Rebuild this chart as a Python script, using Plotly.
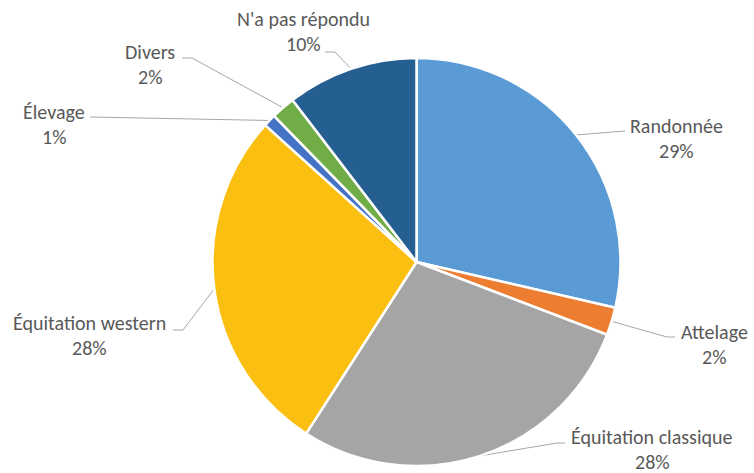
import math
import plotly.graph_objects as go

# slice data (clockwise from 12 o'clock)
labels = ["Randonnée", "Attelage", "Équitation classique", "Équitation western",
          "Élevage", "Divers", "N'a pas répondu"]
values = [28.6, 2.2, 28.3, 27.6, 1.0, 1.9, 10.4]
colors = ["#5B9BD5", "#ED7D31", "#A5A5A5", "#FBBF12", "#4472C4", "#70AD47", "#255E91"]

# label placement (pixels): block centre x, first line y, elbow point, line end
label_pos = [
    dict(cx=676, y=126, elbow=(625, 131), end=(625, 131)),
    dict(cx=714, y=332, elbow=(667, 337), end=(675, 337)),
    dict(cx=652, y=437, elbow=(557, 443), end=(565, 443)),
    dict(cx=89, y=323, elbow=(183, 330), end=(173, 330)),
    dict(cx=54, y=112, elbow=(90, 117), end=(90, 117)),
    dict(cx=150, y=52, elbow=(192, 58), end=(182, 58)),
    dict(cx=303, y=19, elbow=(335, 52), end=(325, 52)),
]

W, H = 754, 473
CX, CY, R = 416.5, 262, 204
TEXT = "#595959"
FONT = "Calibri, Carlito, 'Noto Sans', sans-serif"

fig = go.Figure()

fig.add_trace(go.Pie(
    labels=labels, values=values, sort=False, direction="clockwise", rotation=0,
    marker=dict(colors=colors, line=dict(color="white", width=2.5)),
    textinfo="none", hoverinfo="label+percent", showlegend=False,
    domain=dict(x=[(CX - R) / W, (CX + R) / W], y=[1 - (CY + R) / H, 1 - (CY - R) / H]),
))

total = sum(values)
cum = 0
annotations = []
for lab, v, pos in zip(labels, values, label_pos):
    mid = (cum + v / 2) / total * 2 * math.pi
    cum += v
    x0 = CX + R * math.sin(mid)
    y0 = CY - R * math.cos(mid)
    fig.add_trace(go.Scatter(
        x=[x0, pos["elbow"][0], pos["end"][0]],
        y=[y0, pos["elbow"][1], pos["end"][1]],
        mode="lines", line=dict(color="#A6A6A6", width=1),
        hoverinfo="skip", showlegend=False, xaxis="x", yaxis="y",
    ))
    pct = f"{round(v / total * 100)}%"
    for i, txt in enumerate([lab, pct]):
        annotations.append(dict(
            x=pos["cx"], y=pos["y"] + i * 25, xref="x", yref="y",
            text=txt, showarrow=False, xanchor="center", yanchor="middle",
            font=dict(family=FONT, size=20, color=TEXT),
        ))

fig.update_layout(
    width=W, height=H,
    margin=dict(l=0, r=0, t=0, b=0),
    paper_bgcolor="white", plot_bgcolor="rgba(0,0,0,0)",
    xaxis=dict(range=[0, W], visible=False, fixedrange=True),
    yaxis=dict(range=[H, 0], visible=False, fixedrange=True),
    annotations=annotations,
)

# drop the default page margin so the figure sits at the window's corner
fig.write_html("out.html", config={"displayModeBar": False},
               post_script="document.body.style.margin='0';")
